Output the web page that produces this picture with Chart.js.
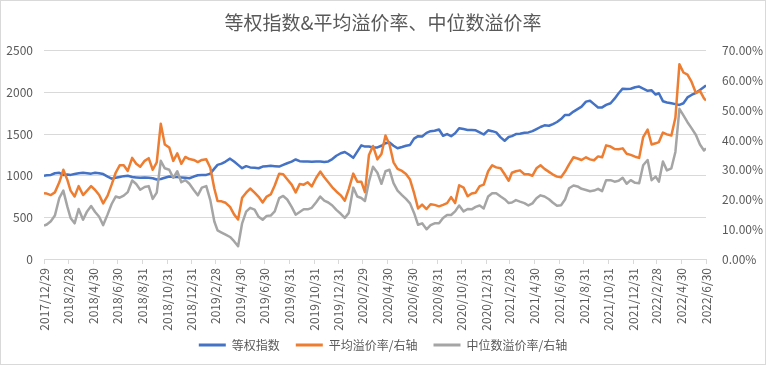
<!DOCTYPE html>
<html><head><meta charset="utf-8">
<script src="https://cdn.jsdelivr.net/npm/chart.js@4.4.0/dist/chart.umd.min.js"></script>
<style>html,body{margin:0;padding:0;background:#fff;}canvas{display:block;}</style>
</head><body>
<canvas id="c" width="766" height="365"></canvas>
<script>
const chartTitle = '等权指数&平均溢价率、中位数溢价率';
const seriesNames = ['等权指数', '平均溢价率/右轴', '中位数溢价率/右轴'];

const dates = [
'2017/12/29',
'2018/1/5','2018/1/15','2018/1/25','2018/2/5','2018/2/15','2018/2/25','2018/3/5','2018/3/15','2018/3/25','2018/4/5','2018/4/15','2018/4/25',
'2018/5/5','2018/5/15','2018/5/25','2018/6/5','2018/6/15','2018/6/25','2018/7/5','2018/7/15','2018/7/25','2018/8/5','2018/8/15','2018/8/25',
'2018/9/5','2018/9/15','2018/9/25','2018/10/5','2018/10/15','2018/10/25','2018/11/5','2018/11/15','2018/11/25','2018/12/5','2018/12/15','2018/12/25',
'2019/1/5','2019/1/15','2019/1/25','2019/2/5','2019/2/15','2019/2/25','2019/3/5','2019/3/15','2019/3/25','2019/4/5','2019/4/15','2019/4/25',
'2019/5/5','2019/5/15','2019/5/25','2019/6/5','2019/6/15','2019/6/25','2019/7/5','2019/7/15','2019/7/25','2019/8/5','2019/8/15','2019/8/25',
'2019/9/5','2019/9/15','2019/9/25','2019/10/5','2019/10/15','2019/10/25','2019/11/5','2019/11/15','2019/11/25','2019/12/5','2019/12/15','2019/12/25',
'2020/1/5','2020/1/15','2020/1/25','2020/2/5','2020/2/15','2020/2/25','2020/3/5','2020/3/15','2020/3/25','2020/4/5','2020/4/15','2020/4/25',
'2020/5/5','2020/5/15','2020/5/25','2020/6/5','2020/6/15','2020/6/25','2020/7/5','2020/7/15','2020/7/25','2020/8/5','2020/8/15','2020/8/25',
'2020/9/5','2020/9/15','2020/9/25','2020/10/5','2020/10/15','2020/10/25','2020/11/5','2020/11/15','2020/11/25','2020/12/5','2020/12/15','2020/12/25',
'2021/1/5','2021/1/15','2021/1/25','2021/2/5','2021/2/15','2021/2/25','2021/3/5','2021/3/15','2021/3/25','2021/4/5','2021/4/15','2021/4/25',
'2021/5/5','2021/5/15','2021/5/25','2021/6/5','2021/6/15','2021/6/25','2021/7/5','2021/7/15','2021/7/25','2021/8/5','2021/8/15','2021/8/25',
'2021/9/5','2021/9/15','2021/9/25','2021/10/5','2021/10/15','2021/10/25','2021/11/5','2021/11/15','2021/11/25','2021/12/5','2021/12/15','2021/12/25',
'2022/1/5','2022/1/15','2022/1/25','2022/2/5','2022/2/15','2022/2/25','2022/3/5','2022/3/15','2022/3/25','2022/4/5','2022/4/15','2022/4/25',
'2022/5/5','2022/5/15','2022/5/25','2022/6/5','2022/6/15','2022/6/25','2022/6/30'
];

const equalWeightIndex = [
1000,1005,1010,1030,1035,1010,1015,1010,1020,1030,
1035,1030,1025,1035,1030,1020,990,965,975,985,
995,1000,985,980,975,980,975,970,955,960,
975,990,985,985,980,975,970,990,1005,1010,
1010,1025,1085,1130,1145,1170,1205,1170,1130,1090,
1115,1100,1095,1090,1110,1115,1120,1115,1110,1130,
1150,1170,1195,1175,1170,1170,1168,1170,1170,1165,
1172,1200,1240,1270,1285,1255,1215,1290,1365,1350,
1350,1340,1340,1360,1390,1400,1360,1330,1345,1360,
1370,1445,1475,1470,1515,1535,1540,1555,1480,1500,
1475,1510,1570,1560,1550,1550,1545,1520,1495,1545,
1535,1520,1460,1420,1465,1475,1500,1505,1515,1520,
1535,1560,1585,1605,1600,1620,1645,1680,1730,1730,
1770,1800,1830,1890,1900,1860,1820,1820,1850,1870,
1925,1990,2045,2040,2045,2063,2070,2045,2020,2025,
1975,1990,1895,1880,1870,1860,1850,1870,1940,1970,
1995,2030,2065,2085
];

const avgPremium = [
22.1,22.0,21.5,22.4,25.8,30.0,26.6,23.0,21.0,24.5,
21.5,23.0,24.5,23.2,21.5,18.7,21.3,25.0,29.0,31.5,
31.5,29.6,34.0,32.0,31.0,33.0,33.9,30.0,32.5,45.5,
38.5,37.5,33.0,35.5,32.0,34.3,33.6,33.3,32.6,33.3,
33.5,30.7,23.7,19.5,19.4,18.9,17.5,15.0,13.3,20.6,
22.3,23.7,22.3,20.9,19.0,21.0,21.7,24.7,28.7,28.5,
26.8,25.0,22.4,25.2,25.0,25.8,24.4,27.3,29.4,27.5,
25.8,24.1,22.7,21.4,19.6,23.6,28.7,26.0,26.0,22.5,
35.0,38.0,33.5,35.3,41.5,38.5,32.5,30.3,29.6,28.6,
26.7,22.2,17.0,18.3,16.8,18.4,18.2,17.7,18.2,18.8,
20.8,18.8,24.8,24.0,21.1,22.0,22.3,24.5,25.0,29.5,
31.5,30.8,30.5,28.5,26.3,29.0,29.5,29.8,28.5,28.5,
28.0,30.5,31.5,30.3,29.3,28.4,27.7,27.5,29.4,31.8,
34.2,33.8,33.3,34.2,33.5,33.2,34.5,34.2,38.2,37.8,
37.0,36.9,37.2,35.4,35.0,34.4,34.0,41.0,43.5,38.5,
38.9,39.3,42.5,41.9,41.5,47.5,65.5,62.7,62.0,59.6,
55.8,56.5,54.0,53.3
];

const medianPremium = [
11.2,11.6,12.7,14.6,20.5,23.0,17.6,13.8,12.0,16.8,
13.2,16.0,17.8,15.8,14.2,11.4,15.0,18.5,21.0,20.6,
21.3,22.5,26.4,25.2,23.3,24.2,24.5,20.2,22.3,33.0,
30.5,30.0,27.3,29.5,25.8,26.5,25.3,23.2,21.4,24.0,
24.5,19.8,12.6,9.6,8.9,8.2,7.4,6.0,4.3,12.0,
15.9,17.2,16.6,14.2,13.2,14.5,14.6,16.0,20.5,21.2,
20.0,17.5,14.9,15.8,16.7,16.7,17.2,19.1,21.0,19.6,
19.0,18.0,16.5,15.2,13.8,15.5,24.0,21.0,20.5,19.5,
26.0,31.0,29.0,25.3,29.5,30.0,25.5,23.0,21.5,20.2,
18.7,15.5,11.5,12.0,10.0,11.4,12.0,12.0,13.8,14.8,
14.8,16.0,18.0,16.0,16.8,16.7,17.5,18.0,17.0,21.0,
22.1,22.1,21.0,20.1,18.8,19.0,19.8,19.3,18.8,18.0,
18.7,20.4,21.4,21.0,20.1,18.9,17.9,18.1,20.0,23.8,
24.7,24.4,23.6,23.2,22.8,23.0,23.6,22.8,26.5,26.5,
26.0,26.3,27.3,25.3,26.5,25.6,25.5,31.5,33.3,26.5,
27.7,26.0,32.8,29.8,30.5,36.0,50.5,48.3,46.0,44.0,
41.7,38.5,36.5,37.2
];

const tickLabels = ['2017/12/29','2018/2/28','2018/4/30','2018/6/30','2018/8/31','2018/10/31','2018/12/31',
'2019/2/28','2019/4/30','2019/6/30','2019/8/31','2019/10/31','2019/12/31','2020/2/29','2020/4/30','2020/6/30',
'2020/8/31','2020/10/31','2020/12/31','2021/2/28','2021/4/30','2021/6/30','2021/8/31','2021/10/31','2021/12/31',
'2022/2/28','2022/4/30','2022/6/30'];

const leftTicks = {min: 0, max: 2500, step: 500};
const rightTicks = {min: 0, max: 70, step: 10};

function dayNum(s) { const p = s.split('/').map(Number); return Date.UTC(p[0], p[1] - 1, p[2]) / 86400000; }
const base = dayNum(tickLabels[0]);
const xs = dates.map(d => dayNum(d) - base);
const tickVals = tickLabels.map(d => dayNum(d) - base);
const toPts = arr => arr.map((v, i) => ({x: xs[i], y: v}));

const FF = '"Noto Sans CJK SC", "Noto Sans", sans-serif';
const TXT = '#595959';
Chart.defaults.font.family = FF;

const frame = {
  id: 'frame',
  beforeDraw(chart) { const c = chart.ctx; c.save(); c.fillStyle = '#fff'; c.fillRect(0, 0, chart.width, chart.height); c.restore(); },
  afterDraw(chart) { const c = chart.ctx; c.save(); c.strokeStyle = '#d9d9d9'; c.lineWidth = 1; c.strokeRect(0.5, 0.5, chart.width - 1, chart.height - 1); c.restore(); }
};

new Chart(document.getElementById('c'), {
  type: 'line',
  data: {
    datasets: [
      {label: seriesNames[0], data: toPts(equalWeightIndex), yAxisID: 'y', borderColor: '#4472C4', backgroundColor: '#4472C4', order: 3},
      {label: seriesNames[1], data: toPts(avgPremium), yAxisID: 'y1', borderColor: '#ED7D31', backgroundColor: '#ED7D31', order: 2},
      {label: seriesNames[2], data: toPts(medianPremium), yAxisID: 'y1', borderColor: '#A5A5A5', backgroundColor: '#A5A5A5', order: 1}
    ]
  },
  options: {
    responsive: false,
    animation: false,
    devicePixelRatio: 1,
    layout: {padding: {top: 0, left: 0, right: 0, bottom: 4}},
    elements: {point: {radius: 0}, line: {borderWidth: 2.5, tension: 0, borderJoinStyle: 'round'}},
    plugins: {
      tooltip: {enabled: false},
      title: {display: true, text: chartTitle, color: TXT, font: {size: 19, weight: 'normal', family: FF}, padding: {top: 11, bottom: 17}},
      legend: {
        position: 'bottom',
        labels: {
          boxWidth: 27, boxHeight: 3, padding: 16, color: TXT, font: {size: 12, family: FF},
          sort: (a, b) => a.datasetIndex - b.datasetIndex,
          generateLabels: (chart) => {
            const items = Chart.defaults.plugins.legend.labels.generateLabels(chart);
            items.forEach(it => { it.fillStyle = it.strokeStyle; it.lineWidth = 0; });
            return items;
          }
        }
      }
    },
    scales: {
      x: {
        type: 'linear',
        min: tickVals[0], max: tickVals[tickVals.length - 1],
        afterBuildTicks: s => { s.ticks = tickVals.map(v => ({value: v})); },
        afterFit: s => { s.height = 64; s._computeLabelArea = () => undefined; },
        ticks: {
          autoSkip: false, minRotation: 90, maxRotation: 90, padding: 4, color: TXT, font: {size: 12},
          callback: (v) => { const i = tickVals.indexOf(v); return i >= 0 ? tickLabels[i] : ''; }
        },
        grid: {drawOnChartArea: false, drawTicks: true, tickLength: 5, color: '#d9d9d9'},
        border: {display: true, color: '#d9d9d9'}
      },
      y: {
        position: 'left', min: leftTicks.min, max: leftTicks.max,
        afterFit: s => { s.width = 44; },
        ticks: {stepSize: leftTicks.step, color: TXT, font: {size: 12}, padding: 11, callback: v => String(v)},
        grid: {color: '#d9d9d9', drawTicks: false},
        border: {display: false}
      },
      y1: {
        position: 'right', min: rightTicks.min, max: rightTicks.max,
        afterFit: s => { s.width = 60; },
        ticks: {stepSize: rightTicks.step, color: TXT, font: {size: 12}, padding: 16, callback: v => v.toFixed(2) + '%'},
        grid: {drawOnChartArea: false, drawTicks: false},
        border: {display: false}
      }
    }
  },
  plugins: [frame]
});
</script>
</body></html>
